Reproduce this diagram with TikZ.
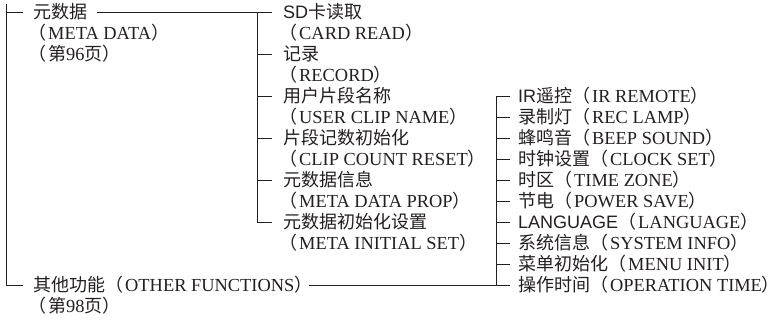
\documentclass[tikz,border=0pt]{standalone}
\usepackage{fontspec}
\setmainfont{Liberation Serif}
\newfontfamily\cjk{Noto Sans CJK SC}
\newfontfamily\asans{Liberation Sans}
\newcommand\fzc{\fontsize{18}{21}\selectfont}
\newcommand\lp{{\cjk\fzc （}\kern2pt}
\newcommand\rp{{\cjk\fzc ）}\kern-8pt}
\newcommand\zh[1]{{\cjk\fzc #1}}
\newcommand\sa[1]{{\asans\fontsize{18}{21}\selectfont #1}}
\newcommand\fz{\fontsize{18.4}{21}\selectfont}
\definecolor{ink}{RGB}{35,31,32}
\begin{document}
\begin{tikzpicture}[x=1pt,y=-1pt,
  lbl/.style={anchor=west, inner sep=0pt, text height=12.5pt, text depth=0pt, font=\fz, text=ink},
  ln/.style={line width=0.9pt, draw=ink}]
\useasboundingbox (0,0) rectangle (780,321);
% level 0
\node[lbl] (meta)   at (33,12)  {\zh{元数据}};
\node[lbl] (metaE)  at (28,33)  {\lp META DATA\rp};
\node[lbl] (metaP)  at (28,54)  {\lp\zh{第}96\zh{页}\rp};
\node[lbl] (other)  at (33,285) {\zh{其他功能}\lp OTHER FUNCTIONS\rp};
\node[lbl] (otherP) at (28,306) {\lp\zh{第}98\zh{页}\rp};
% level 1
\node[lbl] (sd)   at (283,12)  {\sa{SD}\zh{卡读取}};
\node[lbl] (sdE)  at (279,33)  {\lp CARD READ\rp};
\node[lbl] (rec)  at (283,54)  {\zh{记录}};
\node[lbl] (recE) at (279,75)  {\lp RECORD\rp};
\node[lbl] (ucn)  at (283,96)  {\zh{用户片段名称}};
\node[lbl] (ucnE) at (279,117) {\lp USER CLIP NAME\rp};
\node[lbl] (ccr)  at (283,138) {\zh{片段记数初始化}};
\node[lbl] (ccrE) at (279,159) {\lp CLIP COUNT RESET\rp};
\node[lbl] (mdp)  at (283,180) {\zh{元数据信息}};
\node[lbl] (mdpE) at (279,201) {\lp META DATA PROP\rp};
\node[lbl] (mis)  at (283,222) {\zh{元数据初始化设置}};
\node[lbl] (misE) at (279,243) {\lp META INITIAL SET\rp};
% level 2
\node[lbl] (ir)   at (518,96)  {\sa{IR}\zh{遥控}\lp IR REMOTE\rp};
\node[lbl] (rl)   at (518,117) {\zh{录制灯}\lp REC LAMP\rp};
\node[lbl] (bs)   at (518,138) {\zh{蜂鸣音}\lp BEEP SOUND\rp};
\node[lbl] (cs)   at (518,159) {\zh{时钟设置}\lp CLOCK SET\rp};
\node[lbl] (tz)   at (518,180) {\zh{时区}\lp TIME ZONE\rp};
\node[lbl] (ps)   at (518,201) {\zh{节电}\lp POWER SAVE\rp};
\node[lbl] (lg)   at (518,222) {\sa{LANGUAGE}\lp LANGUAGE\rp};
\node[lbl] (si)   at (518,243) {\zh{系统信息}\lp SYSTEM INFO\rp};
\node[lbl] (mi)   at (518,264) {\zh{菜单初始化}\lp MENU INIT\rp};
\node[lbl] (op)   at (518,285) {\zh{操作时间}\lp OPERATION TIME\rp};
% connectors level 0
\coordinate (t0) at (6,4);
\draw[ln] (t0) |- ([xshift=-10]other.west);
\draw[ln] (t0 |- meta.west) -- ([xshift=-10]meta.west);
% level 1
\coordinate (v1) at (257,12);
\draw[ln] ([xshift=10]meta.east) -- ([xshift=-11]sd.west);
\draw[ln] (v1) |- ([xshift=-11]mis.west);
\foreach \n in {rec,ucn,ccr,mdp}
  \draw[ln] (v1 |- \n.west) -- ([xshift=-11]\n.west);
% level 2
\coordinate (v2) at (496,96);
\draw[ln] ([xshift=-8]ir.west) -| (v2 |- op.west);
\draw[ln] ([xshift=4]other.east) -- ([xshift=-8]op.west);
\foreach \n in {rl,bs,cs,tz,ps,lg,si,mi}
  \draw[ln] (v2 |- \n.west) -- ([xshift=-8]\n.west);
\end{tikzpicture}
\end{document}
